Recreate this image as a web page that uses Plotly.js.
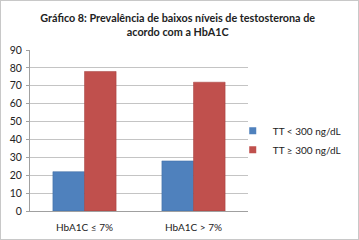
<!DOCTYPE html>
<html><head><meta charset="utf-8">
<script src="https://cdn.plot.ly/plotly-3.0.1.min.js"></script>
<style>html,body{margin:0;padding:0;background:#fff}#c{position:absolute;left:0;top:0;width:357px;height:238px;border:1px solid #c8c8c8}</style>
</head><body><div id="c"></div>
<script>
var categories = ["HbA1C ≤ 7%", "HbA1C > 7%"];
var seriesNames = ["TT < 300 ng/dL", "TT ≥ 300 ng/dL"];
var lowTT = [22, 28];
var normalTT = [78, 72];
var yTicks = [0,10,20,30,40,50,60,70,80,90];
var titleText = "Gráfico 8: Prevalência de baixos níveis de testosterona de<br>acordo com a HbA1C";
var colors = ['#4F81BD', '#C0504D'];

var fnt = "Lato, 'Liberation Sans', sans-serif";
var data = [
 {type:'bar', x:categories, y:lowTT, name:seriesNames[0], showlegend:false, marker:{color:colors[0], line:{color:'#3C6BA3', width:0.5}}},
 {type:'bar', x:categories, y:normalTT, name:seriesNames[1], showlegend:false, marker:{color:colors[1], line:{color:'#A33D3A', width:0.5}}},
 {type:'scatter', mode:'markers', x:[null], y:[null], name:seriesNames[0], marker:{symbol:'square', size:7, color:colors[0]}},
 {type:'scatter', mode:'markers', x:[null], y:[null], name:seriesNames[1], marker:{symbol:'square', size:7, color:colors[1]}}
];
var layout = {
 width:357, height:238,
 margin:{l:29, r:103, t:49, b:28},
 paper_bgcolor:'#fff', plot_bgcolor:'#fff',
 bargap:0.42, bargroupgap:0,
 title:{text:titleText, font:{family:fnt, size:10.8, color:'#222', weight:'bold'}, x:0.495, xanchor:'center', yref:'container', y:0.91, yanchor:'middle'},
 xaxis:{tickfont:{family:fnt, size:10, color:'#222'}, showline:true, linecolor:'#a0a0a0', ticks:'', ticklabelstandoff:7, fixedrange:true},
 yaxis:{range:[0,90], tickvals:yTicks, tickfont:{family:fnt, size:10.5, color:'#222'}, showline:true, linecolor:'#a0a0a0', gridcolor:'#c4c4c4', ticks:'outside', ticklen:3, tickcolor:'#a0a0a0', ticklabelstandoff:2, zeroline:false},
 legend:{x:0.93, xanchor:'left', y:0.44, yanchor:'middle', bgcolor:'rgba(0,0,0,0)', font:{family:fnt, size:10, color:'#222'}, itemwidth:30, tracegroupgap:0},
 showlegend:true
};
Plotly.newPlot('c', data, layout, {displayModeBar:false, staticPlot:true});
</script></body></html>
